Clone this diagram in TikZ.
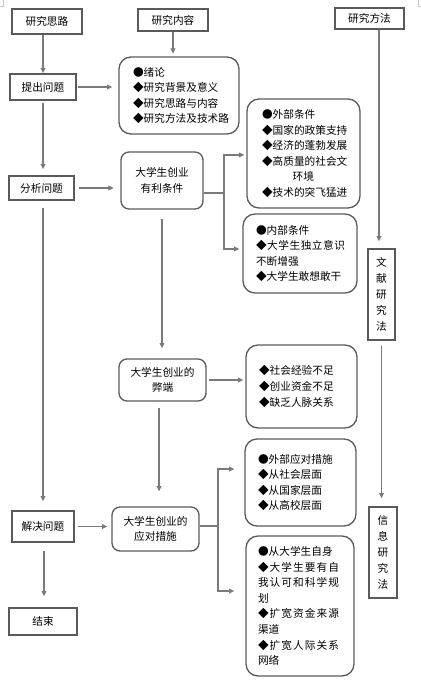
\documentclass[tikz,border=0pt]{standalone}
\usepackage{fontspec}
\setmainfont{Noto Sans CJK SC}
\newfontfamily\cjkwide[LetterSpace=10]{Noto Sans CJK SC}
\newfontfamily\cjkmid[LetterSpace=5]{Noto Sans CJK SC}
\usetikzlibrary{arrows.meta}
\definecolor{boxc}{HTML}{5A5A5A}
\definecolor{arrc}{HTML}{7A7A7A}
\definecolor{markc}{HTML}{C8C8C8}
\begin{document}
\begin{tikzpicture}[x=0.75pt,y=-0.75pt,
  font=\fontsize{8pt}{11.7pt}\selectfont,
  sq/.style={draw=boxc,line width=1pt,inner sep=0pt,align=center},
  rdb/.style={sq,rounded corners=9pt},
  rds/.style={sq,rounded corners=6pt},
  vert/.style={sq,font=\fontsize{8pt}{11.9pt}\selectfont},
  arr/.style={draw=arrc,line width=0.9pt,-{Triangle[length=4pt,width=3.6pt]}},
  ln/.style={draw=arrc,line width=0.9pt}]
\useasboundingbox (0,0) rectangle (421,689);
% page corner marks
\draw[markc,line width=0.5pt] (0,6) -- (3,6) -- (3,0);
\draw[markc,line width=0.5pt] (421,6) -- (418,6) -- (418,0);

% column heads
\node[sq,minimum width=52.5pt,minimum height=18.75pt] (siLu) at (47,21.5) {研究思路};
\node[sq,minimum width=52.5pt,minimum height=16.5pt] (neiRong) at (173,20) {研究内容};
\node[sq,minimum width=51.75pt,minimum height=15.75pt] (fangFa) at (369.5,18.5) {研究方法};

% left column
\node[sq,minimum width=49.5pt,minimum height=19.5pt] (tiChu) at (43,87) {提出问题};
\node[sq,minimum width=48.75pt,minimum height=18pt] (fenXi) at (41.5,188) {分析问题};
\node[sq,minimum width=46.5pt,minimum height=23.25pt] (jieJue) at (43,526.5) {解决问题};
\node[sq,minimum width=51pt,minimum height=20.25pt] (jieShu) at (43,621.5) {结束};

% middle column
\node[rdb,minimum width=90pt,minimum height=57.75pt,text width=69pt,align=left] (xuLun) at (179,95.5)
  {●绪论\\◆研究背景及意义\\◆研究思路与内容\\◆研究方法及技术路};
\node[rds,minimum width=61.5pt,minimum height=42.75pt] (youLi) at (162,180.5) {大学生创业\\有利条件};
\node[rds,minimum width=65.25pt,minimum height=31.5pt] (biDuan) at (162.5,380) {大学生创业的\\弊端};
\node[rds,minimum width=65.25pt,minimum height=33pt] (yingDui) at (155.5,529) {大学生创业的\\应对措施};

% right-middle column
\node[rdb,minimum width=84.75pt,minimum height=81.75pt,text width=62.25pt,align=left] (waiBu) at (303.5,153.5)
  {●外部条件\\◆国家的政策支持\\◆经济的蓬勃发展\\◆高质量的社会文\\\hspace*{23pt}环境\\◆技术的突飞猛进};
\node[rdb,minimum width=85.5pt,minimum height=59.25pt,text width=66pt,align=left] (neiBu) at (300,253.5)
  {●内部条件\\{\cjkmid ◆大学生独立意识}\\不断增强\\◆大学生敢想敢干};
\node[rdb,minimum width=83.25pt,minimum height=62.25pt,text width=63.75pt,align=left] (sheHui) at (301.5,386.5)
  {◆社会经验不足\\◆创业资金不足\\◆缺乏人脉关系};
\node[rdb,minimum width=83.25pt,minimum height=65.25pt,text width=63.75pt,align=left] (waiDui) at (300.5,482.5)
  {●外部应对措施\\◆从社会层面\\◆从国家层面\\◆从高校层面};
\node[rdb,minimum width=81pt,minimum height=105pt,text width=63pt,align=left] (ziShen) at (300,606)
  {●从大学生自身\\{\cjkwide ◆大学生要有自}\\{\cjkwide 我认可和科学规}\\划\\{\cjkwide ◆扩宽资金来源}\\渠道\\{\cjkwide ◆扩宽人际关系}\\网络};

% right column
\node[vert,minimum width=20.25pt,minimum height=68.25pt] (wenXian) at (381.5,294.5) {文\\献\\研\\究\\法};
\node[vert,minimum width=21pt,minimum height=68.25pt] (xinXi) at (383,552.5) {信\\息\\研\\究\\法};

% connectors
\draw[arr] (siLu.south -| tiChu.north) -- (tiChu.north);
\draw[arr,shorten >=2pt] (neiRong.south) -- (neiRong.south |- xuLun.north);
\draw[arr,shorten <=0.75pt,shorten >=4.5pt] (tiChu.east) -- (tiChu.east -| xuLun.west);
\draw[arr,shorten <=1.5pt,shorten >=4.5pt] (tiChu.south) -- (tiChu.south |- fenXi.north);
\draw[arr,shorten <=3pt,shorten >=5pt] (fenXi.east) -- (fenXi.east -| youLi.west);

\coordinate (j1) at (224,193);
\draw[ln] (j1 -| youLi.east) -- (j1);
\draw[arr,shorten >=1.5pt] (j1) |- ([yshift=-1.1pt]waiBu.west);
\draw[arr,shorten >=2.25pt] (j1) |- ([yshift=3.4pt]neiBu.west);

\draw[arr,shorten <=6.75pt,shorten >=7.5pt] (youLi.south) -- (youLi.south |- biDuan.north);
\draw[arr,shorten <=1.5pt,shorten >=1.5pt] (biDuan.east) -- (biDuan.east -| sheHui.west);
\draw[arr,shorten <=4.5pt,shorten >=11.25pt] ([xshift=-2.6pt]biDuan.south) -- ([xshift=-2.6pt]biDuan.south |- yingDui.north);

\coordinate (j2) at (218,526);
\draw[ln] (j2 -| yingDui.east) -- (j2);
\draw[arr,shorten >=7.5pt] (j2) |- ([yshift=10.1pt]waiDui.west);
\draw[arr,shorten >=8.25pt] (j2) |- ([yshift=11.25pt]ziShen.west);

\draw[arr,shorten <=5.25pt,shorten >=6.75pt] (fenXi.south -| tiChu.south) -- (tiChu.south |- jieJue.north);
\draw[arr,shorten <=2.25pt,shorten >=3pt] (jieJue.east) -- (jieJue.east -| yingDui.west);
\draw[arr,shorten <=6pt,shorten >=8.25pt] ([xshift=0.75pt]jieJue.south) -- ([xshift=0.75pt]jieJue.south |- jieShu.north);

\draw[arr,shorten >=5.25pt] ([xshift=7.1pt]fangFa.south) -- ([xshift=7.1pt]fangFa.south |- wenXian.north);
\draw[arr,shorten <=3.75pt,shorten >=6pt] (wenXian.south) -- (wenXian.south |- xinXi.north);
\end{tikzpicture}
\end{document}
